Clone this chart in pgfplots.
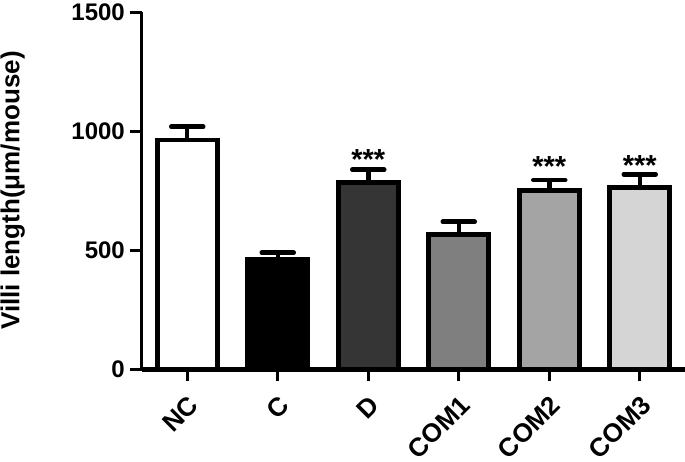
\documentclass[border=0pt]{standalone}
\usepackage{pgfplots}
\pgfplotsset{compat=1.18}
\usepackage{fontspec}
\setmainfont{Liberation Sans}
\definecolor{cD}{HTML}{353535}
\definecolor{cM1}{HTML}{7F7F7F}
\definecolor{cM2}{HTML}{A4A4A4}
\definecolor{cM3}{HTML}{D5D5D5}
\pgfplotsset{
  mybar/.style={ybar, bar shift=0pt, bar width=0.66, draw=black, line width=4.8pt,
    error bars/y dir=plus, error bars/y explicit,
    error bars/error bar style={line width=4.5pt, black},
    error bars/error mark options={rotate=90, mark size=16pt, line width=4.5pt, line cap=round, black}},
}
\begin{document}
\begin{tikzpicture}
\begin{axis}[
  width=543pt, height=357pt, scale only axis,
  xmin=-0.5, xmax=5.5, ymin=0, ymax=1500,
  axis lines=left, axis line style={-},
  x axis line style={line width=5pt},
  y axis line style={line width=3pt},
  xtick={0,1,2,3,4,5}, xticklabels={NC,C,D,COM1,COM2,COM3},
  ytick={0,500,1000,1500},
  tick align=outside, major tick length=12pt,
  every tick/.style={line width=3pt, black},
  xticklabel style={xshift=0pt, yshift=-13pt, rotate=45, anchor=north east, inner sep=0pt, font=\bfseries\fontsize{26}{28}\selectfont},
  yticklabel style={inner sep=0pt, xshift=-5pt, font=\bfseries\fontsize{24}{26}\selectfont},
  /pgf/number format/assume math mode=true,
  /pgf/number format/1000 sep={},
  ylabel={Villi length(μm/mouse)},
  ylabel style={at={(axis description cs:-0.238,0.5)}, anchor=center, font=\bfseries\fontsize{26}{28}\selectfont},
  clip=false,
]
\addplot[mybar, fill=white] coordinates {(0,962) +- (0,56)};
\addplot[mybar, fill=black] coordinates {(1,459) +- (0,30)};
\addplot[mybar, fill=cD] coordinates {(2,784) +- (0,54)};
\addplot[mybar, fill=cM1] coordinates {(3,566) +- (0,53)};
\addplot[mybar, fill=cM2] coordinates {(4,749) +- (0,45)};
\addplot[mybar, fill=cM3] coordinates {(5,763) +- (0,55)};
\node[font=\bfseries\fontsize{29}{29}\selectfont, anchor=base] at (axis cs:2,840) {***};
\node[font=\bfseries\fontsize{29}{29}\selectfont, anchor=base] at (axis cs:4,808) {***};
\node[font=\bfseries\fontsize{29}{29}\selectfont, anchor=base] at (axis cs:5,815) {***};
\end{axis}
\pgfresetboundingbox
\path ([shift={(-142pt,-92pt)}]current axis.south west) rectangle ([shift={(0pt,12pt)}]current axis.north east);
\end{tikzpicture}
\end{document}
